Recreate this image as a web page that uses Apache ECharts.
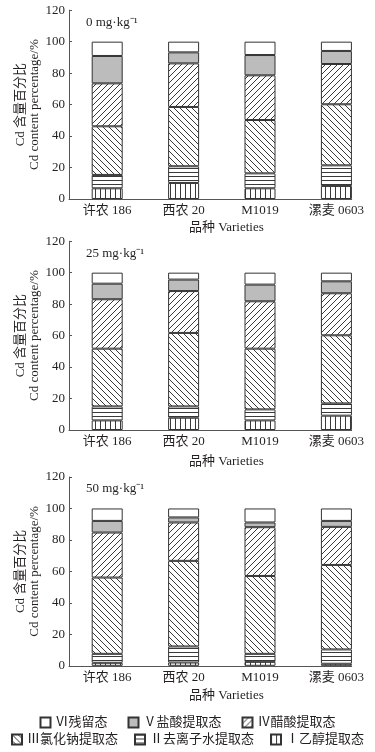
<!DOCTYPE html>
<html>
<head>
<meta charset="utf-8">
<script src="https://cdn.jsdelivr.net/npm/echarts@6/dist/echarts.min.js"></script>
<style>
html, body { margin: 0; padding: 0; background: #fff; }
#main { width: 375px; height: 752px; }
</style>
</head>
<body>
<div id="main"></div>
<script>
const varieties = ['许农 186', '西农 20', 'M1019', '漯麦 0603']
const doses = ['0 mg·kg⁻¹', '25 mg·kg⁻¹', '50 mg·kg⁻¹']
const fractionNames = ['Ⅰ乙醇提取态', 'Ⅱ去离子水提取态', 'Ⅲ氯化钠提取态', 'Ⅳ醋酸提取态', 'Ⅴ盐酸提取态', 'Ⅵ残留态']

// one row per Cd dose, one value per variety (%)
const ethanolF = [
    [6.8, 10.2, 6.8, 8.3],
    [6.1, 7.8, 6.1, 9.1],
    [1.9, 2.1, 2.5, 1.3],
]
const waterF = [
    [8.5, 10.6, 9.5, 13.1],
    [8.9, 7.2, 7.0, 7.8],
    [5.7, 10.2, 5.1, 9.1],
]
const naclF = [
    [30.9, 37.7, 33.9, 38.8],
    [36.7, 46.7, 38.6, 43.3],
    [48.5, 54.4, 49.5, 53.7],
]
const haceF = [
    [27.3, 27.7, 28.4, 25.6],
    [31.4, 26.6, 30.1, 26.7],
    [28.6, 24.4, 31.0, 24.2],
]
const hclF = [
    [17.4, 7.0, 12.9, 8.3],
    [9.9, 7.3, 10.6, 7.6],
    [7.4, 3.2, 3.0, 3.8],
]
const residualF = [
    [9.1, 6.8, 8.5, 5.9],
    [7.0, 4.4, 7.6, 5.5],
    [7.9, 5.7, 8.9, 7.9],
]
const fractions = [ethanolF, waterF, naclF, haceF, hclF, residualF]

const serif = "'Liberation Serif', 'Noto Sans CJK SC', serif"
const ink = '#231f20'

// 线条填充图案
function makePattern(kind) {
    const s = kind === 'h' ? 4 : (kind === 'v' ? 5 : 6)
    const c = document.createElement('canvas')
    c.width = s
    c.height = s
    const ctx = c.getContext('2d')
    ctx.fillStyle = '#fff'
    ctx.fillRect(0, 0, s, s)
    ctx.strokeStyle = '#3a3a3a'
    ctx.lineWidth = 1
    ctx.beginPath()
    if (kind === 'v') { ctx.moveTo(0.5, 0); ctx.lineTo(0.5, s) }
    if (kind === 'h') { ctx.moveTo(0, 0.5); ctx.lineTo(s, 0.5) }
    if (kind === 'bs') {
        for (const k of [-s, 0, s]) { ctx.moveTo(k, 0); ctx.lineTo(k + s, s) }
    }
    if (kind === 'fs') {
        for (const k of [-s, 0, s]) { ctx.moveTo(k, s); ctx.lineTo(k + s, 0) }
    }
    ctx.stroke()
    return { image: c, repeat: 'repeat' }
}
const fills = [makePattern('v'), makePattern('h'), makePattern('bs'), makePattern('fs'), '#bcbcbc', '#ffffff']

const gridTops = [10.2, 241.2, 477]
const nameGaps = [22, 25, 23]
const titleTops = [16, 247, 482]

const grids = [], xAxes = [], yAxes = [], titles = [], series = []
doses.forEach((dose, d) => {
    grids.push({ left: 69, width: 282.7, top: gridTops[d], height: 188.8 })
    titles.push({
        text: dose, left: 86, top: titleTops[d], padding: 0,
        textStyle: { fontFamily: serif, fontSize: 13, fontWeight: 'normal', color: ink },
    })
    xAxes.push({
        gridIndex: d,
        type: 'value',
        min: -0.5,
        max: 3.2,
        splitLine: { show: false },
        axisTick: { show: false },
        axisLine: { onZero: false, lineStyle: { color: '#555', width: 1 } },
        axisLabel: {
            customValues: [0, 1, 2, 3],
            formatter: (v) => varieties[v],
            margin: 5,
            fontFamily: serif, fontSize: 13, color: ink,
        },
        name: '品种 Varieties',
        nameLocation: 'middle',
        nameGap: nameGaps[d],
        nameMoveOverlap: false,
        nameTextStyle: { fontFamily: serif, fontSize: 13, color: ink, padding: [0, 0, 0, 32] },
    })
    yAxes.push({
        gridIndex: d,
        type: 'value',
        min: 0,
        max: 120,
        interval: 20,
        splitLine: { show: false },
        axisLine: { show: true, onZero: false, lineStyle: { color: '#555', width: 1 } },
        axisTick: { show: true, inside: true, length: 3, lineStyle: { color: '#555' } },
        axisLabel: { margin: 4, fontFamily: serif, fontSize: 13, color: ink },
        name: 'Cd 含量百分比\nCd content percentage/%',
        nameLocation: 'middle',
        nameGap: 27,
        nameMoveOverlap: false,
        nameTextStyle: { fontFamily: serif, fontSize: 13, color: ink, lineHeight: 14 },
    })
    fractions.forEach((arr, f) => {
        series.push({
            type: 'bar',
            name: fractionNames[f],
            xAxisIndex: d,
            yAxisIndex: d,
            stack: 'dose' + d,
            barWidth: 31,
            silent: true,
            // value first so that the stack runs along y
            data: arr[d].map((v, i) => [v, i]),
            encode: { x: 1, y: 0 },
            itemStyle: { color: fills[f], borderColor: '#333', borderWidth: 1 },
        })
    })
})

const legendText = { fontFamily: serif, fontSize: 13, color: ink }
let mycharts = echarts.init(document.getElementById('main'))
mycharts.setOption({
    animation: false,
    title: titles,
    grid: grids,
    xAxis: xAxes,
    yAxis: yAxes,
    legend: [
        {
            data: ['Ⅵ残留态', 'Ⅴ盐酸提取态', 'Ⅳ醋酸提取态'],
            top: 711, left: 'center', icon: 'rect',
            itemWidth: 10, itemHeight: 10, itemGap: 20,
            selectedMode: false,
            textStyle: legendText,
        },
        {
            data: ['Ⅲ氯化钠提取态', 'Ⅱ去离子水提取态', 'Ⅰ乙醇提取态'],
            top: 728, left: 'center', icon: 'rect',
            itemWidth: 10, itemHeight: 10, itemGap: 16,
            selectedMode: false,
            textStyle: legendText,
        },
    ],
    series: series,
})
</script>
</body>
</html>
